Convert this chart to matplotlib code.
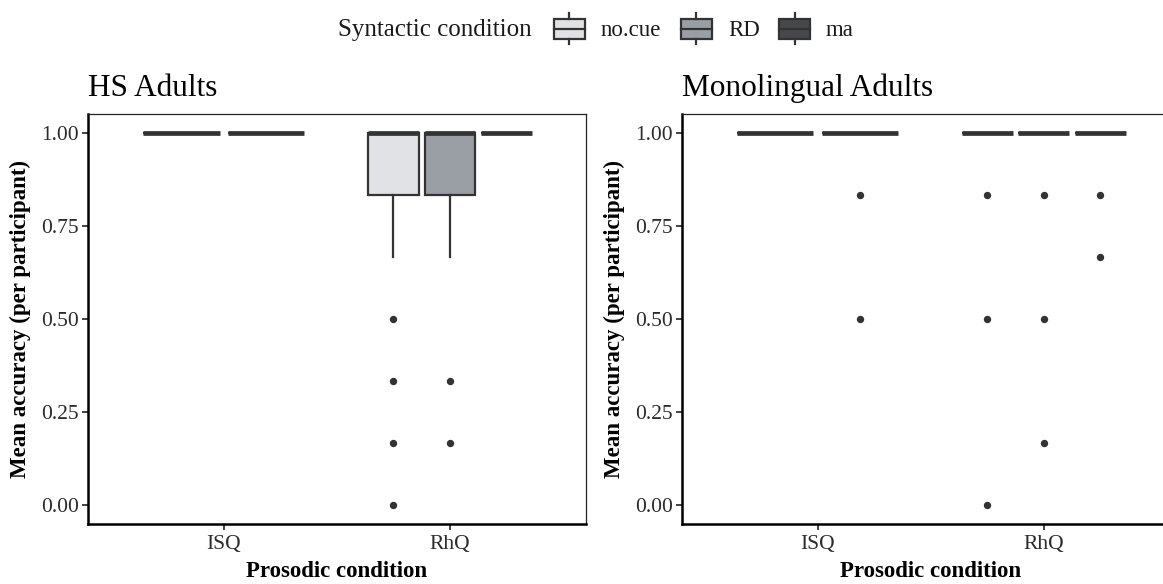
import matplotlib
matplotlib.use("Agg")
import matplotlib.pyplot as plt
from matplotlib.patches import Rectangle, Patch
from matplotlib.lines import Line2D
from matplotlib.legend_handler import HandlerBase

plt.rcParams['font.family'] = ['Liberation Serif', 'DejaVu Serif']

# categories
prosodic = ["ISQ", "RhQ"]
syntactic = ["no.cue", "RD", "ma"]
fills = {"no.cue": "#E1E2E5", "RD": "#9A9FA6", "ma": "#46484C"}
edge = "#333333"

# HS Adults: box summaries per prosodic x syntactic group
hs_prosodic = ["ISQ", "ISQ", "RhQ", "RhQ", "RhQ"]
hs_syntactic = ["no.cue", "RD", "no.cue", "RD", "ma"]
hs_q1 = [1.0, 1.0, 0.8333, 0.8333, 1.0]
hs_med = [1.0, 1.0, 1.0, 1.0, 1.0]
hs_q3 = [1.0, 1.0, 1.0, 1.0, 1.0]
hs_lo = [1.0, 1.0, 0.6667, 0.6667, 1.0]
hs_hi = [1.0, 1.0, 1.0, 1.0, 1.0]
hs_out = [[], [], [0.5, 0.3333, 0.1667, 0.0], [0.3333, 0.1667], []]

# Monolingual Adults
mo_prosodic = ["ISQ", "ISQ", "RhQ", "RhQ", "RhQ"]
mo_syntactic = ["no.cue", "RD", "no.cue", "RD", "ma"]
mo_q1 = [1.0, 1.0, 1.0, 1.0, 1.0]
mo_med = [1.0, 1.0, 1.0, 1.0, 1.0]
mo_q3 = [1.0, 1.0, 1.0, 1.0, 1.0]
mo_lo = [1.0, 1.0, 1.0, 1.0, 1.0]
mo_hi = [1.0, 1.0, 1.0, 1.0, 1.0]
mo_out = [[], [0.8333, 0.5], [0.8333, 0.5, 0.0], [0.8333, 0.5, 0.1667],
          [0.8333, 0.6667]]

panels = [
    ("HS Adults", hs_prosodic, hs_syntactic, hs_q1, hs_med, hs_q3, hs_lo, hs_hi, hs_out),
    ("Monolingual Adults", mo_prosodic, mo_syntactic, mo_q1, mo_med, mo_q3, mo_lo, mo_hi, mo_out),
]

fig = plt.figure(figsize=(11.63, 5.84), dpi=100)
ax_w = 0.4279
ax_y, ax_h = 0.1034, 0.7010
lefts = [0.0757, 0.5864]

for (title, pro, syn, q1, med, q3, lo, hi, out), left in zip(panels, lefts):
    ax = fig.add_axes([left, ax_y, ax_w, ax_h])

    # dodge boxes within each prosodic category (total width 0.75, padding 0.1)
    positions, widths = [], []
    for i, p in enumerate(pro):
        members = [j for j, pp in enumerate(pro) if pp == p]
        n = len(members)
        slot = 0.75 / n
        k = members.index(i)
        centre = prosodic.index(p) + 1
        positions.append(centre - 0.375 + slot * (k + 0.5))
        widths.append(slot * 0.9)

    stats = [dict(q1=q1[i], med=med[i], q3=q3[i], whislo=lo[i], whishi=hi[i],
                  fliers=out[i]) for i in range(len(pro))]
    res = ax.bxp(stats, positions=positions, widths=widths, patch_artist=True,
                 showcaps=False,
                 boxprops=dict(edgecolor=edge, linewidth=1.6),
                 whiskerprops=dict(color=edge, linewidth=1.6),
                 medianprops=dict(color=edge, linewidth=3.4, solid_capstyle='butt'),
                 flierprops=dict(marker='o', markersize=4.3, markerfacecolor=edge,
                                 markeredgecolor=edge, linestyle='none'))
    for patch, s in zip(res['boxes'], syn):
        patch.set_facecolor(fills[s])

    ax.set_xlim(0.4, 2.6)
    ax.set_ylim(-0.05, 1.05)
    ax.set_xticks([1, 2])
    ax.set_xticklabels(prosodic)
    ax.set_yticks([0, 0.25, 0.5, 0.75, 1.0])
    ax.set_yticklabels(["0.00", "0.25", "0.50", "0.75", "1.00"])
    ax.tick_params(axis='both', labelsize=15.5, labelcolor='#2b2b2b',
                   length=4.5, width=1.2, color='#222222', pad=2)
    ax.tick_params(axis='x', pad=4)
    for side in ['left', 'bottom']:
        ax.spines[side].set_linewidth(1.8)
        ax.spines[side].set_color('black')
    for side in ['top', 'right']:
        ax.spines[side].set_linewidth(0.9)
        ax.spines[side].set_color('#222222')
    ax.set_xlabel("Prosodic condition", fontsize=16.5, fontweight='bold', labelpad=5)
    ax.set_ylabel("Mean accuracy (per participant)", fontsize=16.5,
                  fontweight='bold', labelpad=7)
    ax.set_title(title, loc='left', fontsize=22.5, pad=13)


class BoxKey(HandlerBase):
    def create_artists(self, legend, orig_handle, xdescent, ydescent,
                       width, height, fontsize, trans):
        x0, y0 = -xdescent, -ydescent
        cx = x0 + width / 2
        fc = orig_handle.get_facecolor()
        box = Rectangle((x0, y0), width, height, facecolor=fc, edgecolor=edge,
                        linewidth=1.6, transform=trans)
        mid = Line2D([x0, x0 + width], [y0 + height / 2] * 2, color=edge,
                     linewidth=1.6, transform=trans)
        up = Line2D([cx, cx], [y0 + height, y0 + height * 1.27], color=edge,
                    linewidth=1.6, transform=trans)
        dn = Line2D([cx, cx], [y0, y0 - height * 0.27], color=edge,
                    linewidth=1.6, transform=trans)
        return [box, mid, up, dn]


handles = [Patch(facecolor=fills[s]) for s in syntactic]
fig.text(338 / 1163, 1 - 30 / 584, "Syntactic condition", fontsize=18,
         ha='left', va='center', color='#1a1a1a')
fig.legend(handles, syntactic, handler_map={Patch: BoxKey()}, ncol=3,
           loc='center left', bbox_to_anchor=(554 / 1163, 1 - 30 / 584),
           frameon=False, fontsize=16.5, handlelength=1.35, handleheight=0.98,
           handletextpad=0.7, columnspacing=0.85, borderpad=0, borderaxespad=0,
           labelcolor='#1a1a1a')

fig.savefig("out.png", dpi=100)
